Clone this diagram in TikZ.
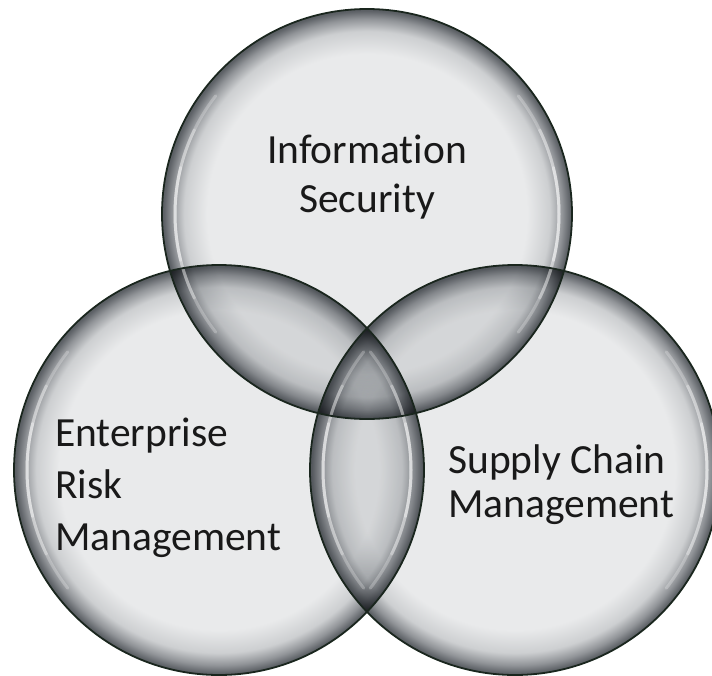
\documentclass[tikz,border=0pt]{standalone}
\usepackage{fontspec}
\setmainfont{Carlito}[Ligatures=NoCommon]

\definecolor{rim}{RGB}{26,38,30}
\definecolor{glasslight}{RGB}{233,234,235}
\definecolor{glassmid}{RGB}{205,207,209}
\definecolor{glassdark}{RGB}{145,148,152}
\definecolor{glassedge}{RGB}{92,96,101}
\pgfdeclareradialshading{glass}{\pgfpoint{0bp}{0bp}}{color(0bp)=(glasslight); color(19.5bp)=(glasslight); color(22.3bp)=(glassmid); color(23.8bp)=(glassdark); color(24.8bp)=(glassedge); color(50bp)=(glassedge)}

\begin{document}
\begin{tikzpicture}[x=1pt,y=-1pt]
		\tikzstyle{bubble}=[shading=glass,blend mode=multiply]
		\tikzstyle{gleam}=[white,line width=3pt,line cap=round]
		\tikzstyle{outline}=[draw=rim,line width=1.8pt]
		\tikzstyle{label}=[inner sep=0,text=black!90,font=\fontsize{41.5}{49}\selectfont]
		\clip (0,0) rectangle (712,675);

		\coordinate (info) at (367,214);
		\coordinate (risk) at (219,470);
		\coordinate (supply) at (515,470);

		\foreach \c in {info,risk,supply}
			\shade[bubble] (\c) circle (205);
		\foreach \c in {info,risk,supply}
			\foreach \s/\o in {38/0.25,26/0.3,14/0.35} {
				\draw[gleam,opacity=\o] ([shift={(180-\s:192)}]\c) arc (180-\s:180+\s:192);
				\draw[gleam,opacity=\o] ([shift={(-\s:192)}]\c) arc (-\s:\s:192);
			}
		\foreach \c in {info,risk,supply}
			\draw[outline] (\c) circle (205);

		\node[label,anchor=base,align=center] (infotext) at (367,212) {Information\\Security};
		\node[label,anchor=base west,align=left,font=\fontsize{41.5}{52}\selectfont] (risktext) at (55,550) {Enterprise\\Risk\\Management};
		\node[label,anchor=base west,align=left,font=\fontsize{41.5}{44}\selectfont] (supplytext) at (448,517) {Supply Chain\\Management};
	\end{tikzpicture}
\end{document}
